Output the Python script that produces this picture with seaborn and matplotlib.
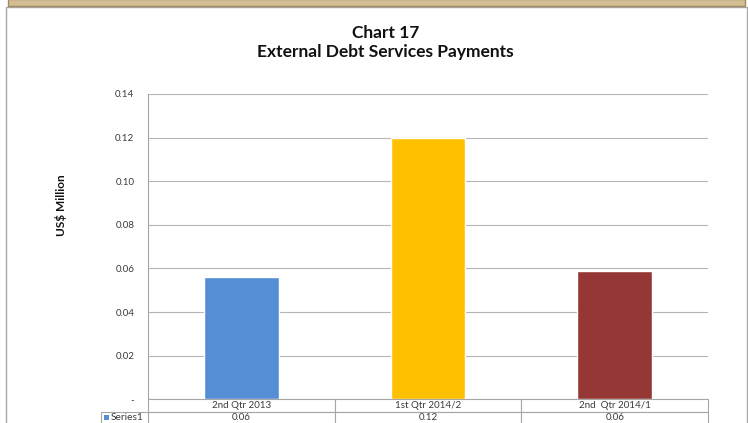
import matplotlib
matplotlib.use("Agg")
import matplotlib.pyplot as plt
import seaborn as sns
import pandas as pd
from matplotlib.patches import Rectangle

# Chart data
categories = ["2nd Qtr 2013", "1st Qtr 2014/2", "2nd  Qtr 2014/1"]
payments = [0.056, 0.12, 0.059]
bar_colors = ["#558ED5", "#FFC000", "#953735"]
y_ticks = [0, 0.02, 0.04, 0.06, 0.08, 0.10, 0.12, 0.14]
y_tick_labels = ["-", "0.02", "0.04", "0.06", "0.08", "0.10", "0.12", "0.14"]
series_name = "Series1"

sns.set_theme(style="white")
plt.rcParams["font.family"] = ["Lato", "DejaVu Sans"]

df = pd.DataFrame({"quarter": categories, "payment": payments})

W, H = 748, 423
fig = plt.figure(figsize=(W / 100, H / 100), dpi=100)
fig.patch.set_facecolor("white")

# plot area in pixel terms
x0, x1 = 148.3, 708.0
y_top, y_bot = 94.0, 399.3
ax = fig.add_axes([x0 / W, 1 - y_bot / H, (x1 - x0) / W, (y_bot - y_top) / H])

sns.barplot(data=df, x="quarter", y="payment", hue="quarter",
            palette=bar_colors, width=0.4, saturation=1, legend=False, ax=ax)

ax.set_xlim(-0.5, len(categories) - 0.5)
ax.set_ylim(0, 0.14)
ax.set_yticks(y_ticks)
ax.set_yticklabels(y_tick_labels)
ax.set_xticks([])
ax.set_xlabel("")
ax.set_ylabel("")
ax.tick_params(axis="y", length=0, pad=10, labelsize=7, labelcolor="#3A3A3A")
ax.yaxis.grid(True, color="#B5B5B5", linewidth=0.8)
ax.set_axisbelow(True)
for side in ["top", "right", "bottom"]:
    ax.spines[side].set_visible(False)
ax.spines["left"].set_color("#A6A6A6")
ax.spines["left"].set_linewidth(0.8)

# data table below the plot
rh = 12.4 / (y_bot - y_top)
value_text = [f"{v:.2f}" for v in payments]
tbl = ax.table(cellText=[value_text], colLabels=categories, cellLoc="center",
               bbox=[0, -2 * rh, 1, 2 * rh])
tbl.auto_set_font_size(False)
tbl.set_fontsize(7)
for cell in tbl.get_celld().values():
    cell.set_edgecolor("#A6A6A6")
    cell.set_linewidth(0.8)
    cell.get_text().set_color("#3A3A3A")

lab_w = (x0 - 100.7) / (x1 - x0)
lbl = ax.table(cellText=[[series_name]], cellLoc="left",
               bbox=[-lab_w, -2 * rh, lab_w, rh])
lbl.auto_set_font_size(False)
lbl.set_fontsize(7.3)
for cell in lbl.get_celld().values():
    cell.set_edgecolor("#A6A6A6")
    cell.set_linewidth(0.8)
    cell.PAD = 0.21
    cell.get_text().set_color("#3A3A3A")
ax.add_patch(Rectangle((-lab_w + 3.5 / (x1 - x0), -1.5 * rh - 2.5 / (y_bot - y_top)),
                       5.0 / (x1 - x0), 5.0 / (y_bot - y_top),
                       transform=ax.transAxes, facecolor=bar_colors[0],
                       edgecolor="none", clip_on=False))

# frame and header band
fig.patches.append(Rectangle((6 / W, -0.02), (746.5 - 6) / W, 1.02 - 7.5 / H,
                             transform=fig.transFigure, facecolor="none",
                             edgecolor="#A8A8A8", linewidth=1.0))
fig.patches.append(Rectangle((7.5 / W, 1 - 6 / H), (745 - 7.5) / W, 6.5 / H,
                             transform=fig.transFigure, facecolor="#D2BE92",
                             edgecolor="#A08C62", linewidth=1.0))

# titles
fig.text(0.515, 1 - 33 / H, "Chart 17", ha="center", va="center",
         fontsize=12.5, fontweight="bold", color="#111111")
fig.text(0.515, 1 - 52 / H, "External Debt Services Payments", ha="center",
         va="center", fontsize=12.5, fontweight="bold", color="#111111")
fig.text(61 / W, 1 - 205 / H, "US$ Million", rotation=90, ha="center",
         va="center", fontsize=8.5, fontweight="bold", color="#111111")

fig.savefig("out.png", dpi=100)
